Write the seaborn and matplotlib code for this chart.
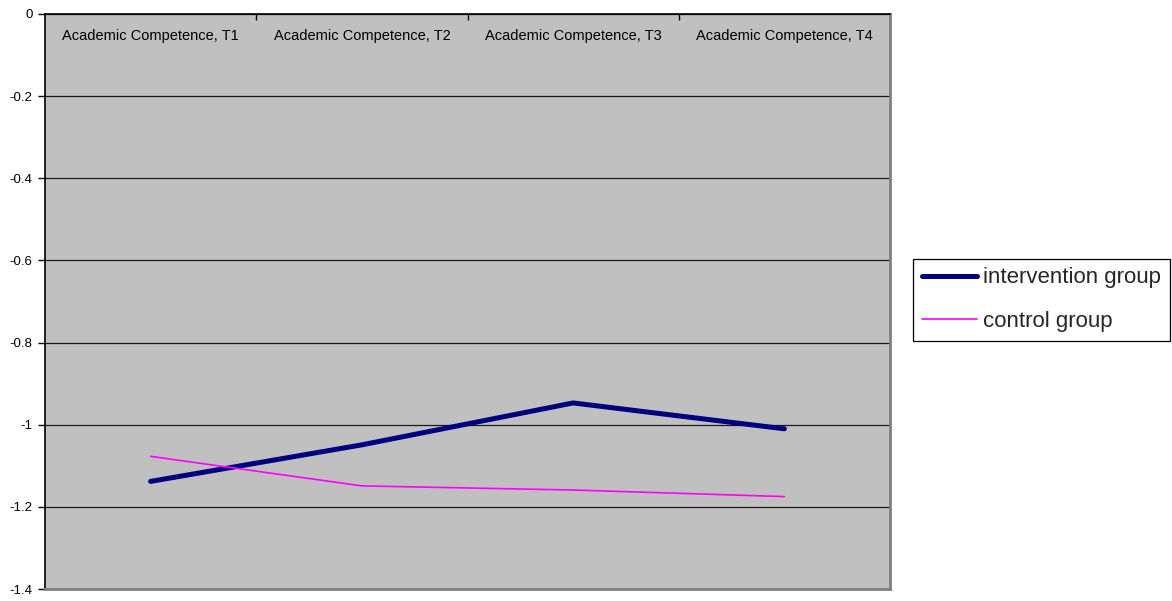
import matplotlib
matplotlib.use("Agg")
import matplotlib.pyplot as plt
from matplotlib.ticker import FixedLocator, FixedFormatter
import seaborn as sns
import pandas as pd

# Data
time_points = ["Academic Competence, T1", "Academic Competence, T2",
               "Academic Competence, T3", "Academic Competence, T4"]
intervention = [-1.138, -1.049, -0.947, -1.010]
control = [-1.077, -1.149, -1.159, -1.175]
series_names = ["intervention group", "control group"]
y_ticks = [0, -0.2, -0.4, -0.6, -0.8, -1.0, -1.2, -1.4]
y_tick_labels = ["0", "-0.2", "-0.4", "-0.6", "-0.8", "-1", "-1.2", "-1.4"]

df = pd.DataFrame({
    "time": time_points * 2,
    "value": intervention + control,
    "group": [series_names[0]] * 4 + [series_names[1]] * 4,
})

sns.set_theme(style="white")
plt.rcParams["font.family"] = ["Liberation Sans", "DejaVu Sans"]

fig = plt.figure(figsize=(11.72, 6.01), dpi=100)
ax = fig.add_axes([45 / 1172, 1 - 589 / 601, 845 / 1172, 575 / 601])
ax.set_facecolor("#C0C0C0")

sns.lineplot(data=df, x="time", y="value", hue="group", size="group",
             hue_order=series_names, size_order=series_names,
             palette={series_names[0]: "#000080", series_names[1]: "#FF00FF"},
             sizes={series_names[0]: 3.6, series_names[1]: 1.2},
             sort=False, ax=ax, legend=True)
for ln in ax.lines:
    ln.set_solid_capstyle("round")

ax.set_xlim(-0.5, 3.5)
ax.set_ylim(-1.4, 0)
ax.set_xlabel("")
ax.set_ylabel("")

# Value axis
ax.yaxis.set_major_locator(FixedLocator(y_ticks))
ax.yaxis.set_major_formatter(FixedFormatter(y_tick_labels))
ax.tick_params(axis="y", left=True, direction="out", length=5, width=1,
               color="black", labelsize=9.5, pad=4, labelcolor="black")
ax.grid(axis="y", color="#1a1a1a", linewidth=0.9)
ax.grid(axis="x", visible=False)

# Category axis along the top, labels drawn inside the plot area
ax.xaxis.tick_top()
ax.xaxis.set_major_locator(FixedLocator([0, 1, 2, 3]))
ax.xaxis.set_major_formatter(FixedFormatter(time_points))
ax.xaxis.set_minor_locator(FixedLocator([0.5, 1.5, 2.5]))
ax.tick_params(axis="x", which="major", top=True, bottom=False, length=0,
               labeltop=True, labelbottom=False, labelsize=10.5, pad=-21,
               labelcolor="black")
ax.tick_params(axis="x", which="minor", top=True, bottom=False, length=4,
               width=1, direction="in", color="black")

for side in ("top", "left"):
    ax.spines[side].set_color("black")
    ax.spines[side].set_linewidth(1.2)
for side in ("right", "bottom"):
    ax.spines[side].set_color("#808080")
    ax.spines[side].set_linewidth(2)
ax.set_axisbelow(True)

handles, labels = ax.get_legend_handles_labels()
leg = ax.legend(handles, labels, loc="center left",
                bbox_to_anchor=(913 / 1172, 1 - 299.5 / 601),
                bbox_transform=fig.transFigure,
                fontsize=16, frameon=True, fancybox=False,
                edgecolor="black", framealpha=1, handlelength=2.5,
                handletextpad=0.25, labelspacing=1.0, borderpad=0.4,
                borderaxespad=0)
leg.get_frame().set_linewidth(0.9)
for h in leg.get_lines():
    h.set_solid_capstyle("round")

fig.savefig("out.png", dpi=100)
